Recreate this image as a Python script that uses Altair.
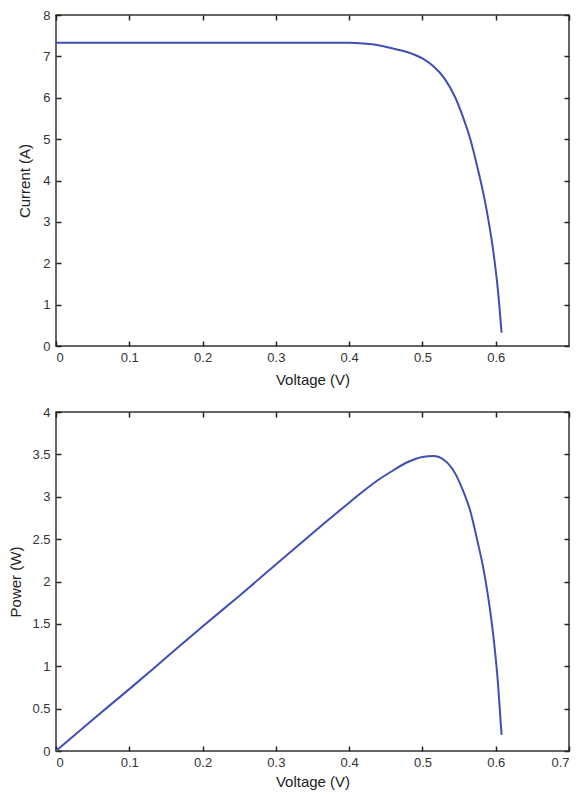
import altair as alt
import pandas as pd

# Values
voltage = [0.0, 0.05, 0.10, 0.15, 0.20, 0.25, 0.30, 0.35, 0.40, 0.42, 0.44, 0.46,
           0.48, 0.50, 0.515, 0.53, 0.545, 0.555, 0.565, 0.575, 0.583, 0.59,
           0.597, 0.603, 0.608]
current = [7.33, 7.33, 7.33, 7.33, 7.33, 7.33, 7.33, 7.33, 7.33, 7.31, 7.27, 7.19,
           7.10, 6.95, 6.76, 6.47, 6.00, 5.55, 5.02, 4.32, 3.70, 3.05,
           2.25, 1.35, 0.32]
power = [0.0, 0.37, 0.73, 1.10, 1.47, 1.83, 2.20, 2.57, 2.93, 3.07, 3.20, 3.31,
         3.41, 3.47, 3.48, 3.43, 3.27, 3.08, 2.84, 2.48, 2.16, 1.80,
         1.34, 0.81, 0.19]

x_ticks_full = [0, 0.1, 0.2, 0.3, 0.4, 0.5, 0.6, 0.7]
x_ticks_top_panel = [0, 0.1, 0.2, 0.3, 0.4, 0.5, 0.6]
current_ticks = [0, 1, 2, 3, 4, 5, 6, 7, 8]
power_ticks = [0, 0.5, 1, 1.5, 2, 2.5, 3, 3.5, 4]

df_iv = pd.DataFrame({"V": voltage, "Y": current})
df_pv = pd.DataFrame({"V": voltage, "Y": power})

LINE_COLOR = "#3f4fb5"
FONT = "Liberation Sans"
W = 513


def panel(df, ytitle, ydomain, yticks, xlabel_ticks, height, ytitle_pad, xtitle_pad):
    xscale = alt.Scale(domain=[0, 0.7], nice=False, zero=False)
    yscale = alt.Scale(domain=ydomain, nice=False, zero=False)
    main = alt.Chart(df).mark_line(color=LINE_COLOR, strokeWidth=2,
                                   interpolate="monotone").encode(
        x=alt.X("V:Q", scale=xscale,
                axis=alt.Axis(orient="bottom", values=xlabel_ticks, format="~g",
                              title="Voltage (V)", offset=-5, tickSize=5,
                              domain=False, grid=False, labelPadding=5,
                              titlePadding=xtitle_pad)),
        y=alt.Y("Y:Q", scale=yscale,
                axis=alt.Axis(orient="left", values=yticks, format="~g",
                              title=ytitle, offset=-5, tickSize=5,
                              domain=False, grid=False, labelPadding=6,
                              titlePadding=ytitle_pad)),
    )
    ghost = alt.Chart(df).mark_line(opacity=0).encode(
        x=alt.X("V:Q", scale=xscale,
                axis=alt.Axis(orient="top", values=x_ticks_full, labels=False,
                              title=None, offset=-5, tickSize=5, domain=False,
                              grid=False)),
        y=alt.Y("Y:Q", scale=yscale,
                axis=alt.Axis(orient="right", values=yticks, labels=False,
                              title=None, offset=-5, tickSize=5, domain=False,
                              grid=False)),
    )
    return alt.layer(main, ghost).resolve_axis(
        x="independent", y="independent"
    ).properties(width=W, height=height)


top = panel(df_iv, "Current (A)", [0, 8], current_ticks, x_ticks_top_panel, 331, 10, 8)
bottom = panel(df_pv, "Power (W)", [0, 4], power_ticks, x_ticks_full, 339, 8, 5)

chart = alt.vconcat(top, bottom, spacing=17).properties(
    background="white", padding=0
).configure_view(
    stroke="#333333", strokeWidth=1.5
).configure_axis(
    labelFont=FONT, labelFontSize=13, labelColor="#333333",
    titleFont=FONT, titleFontSize=15, titleFontWeight="normal",
    titleColor="#222222", tickColor="#222222", tickWidth=1.5,
)

chart.save("out.html", embed_options={"renderer": "svg", "actions": False})
